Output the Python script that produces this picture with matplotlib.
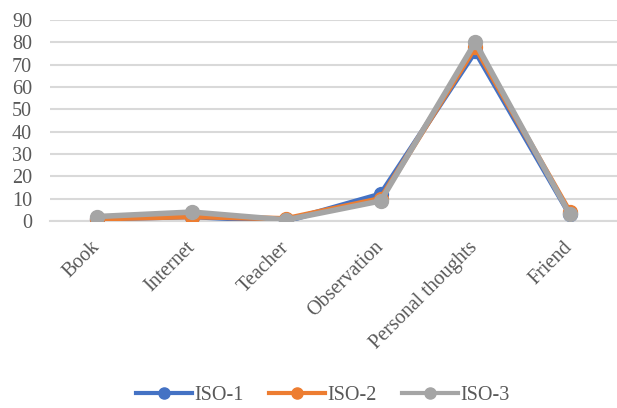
import matplotlib
matplotlib.use("Agg")
import matplotlib.pyplot as plt
from matplotlib.lines import Line2D

categories = ["Book", "Internet", "Teacher", "Observation", "Personal thoughts", "Friend"]
iso1 = [1, 2, 0, 12, 76, 3]
iso2 = [1, 2, 1, 10, 78, 4]
iso3 = [2, 4, 0.5, 9, 80, 3]
yticks = [0, 10, 20, 30, 40, 50, 60, 70, 80, 90]

plt.rcParams["font.family"] = ["Liberation Serif", "DejaVu Serif"]

W, H = 617, 408
fig = plt.figure(figsize=(W / 100, H / 100), dpi=100)
# plot area in pixels: left 50, right 617, top 20, bottom 221
ax = fig.add_axes([50 / W, 1 - 221 / H, (617 - 50) / W, (221 - 20) / H])

series = [("ISO-1", iso1, "#4472C4"), ("ISO-2", iso2, "#ED7D31"), ("ISO-3", iso3, "#A5A5A5")]
x = list(range(len(categories)))
for name, vals, col in series:
    ax.plot(x, vals, color=col, lw=4, marker="o", ms=10, label=name,
            solid_joinstyle="round", solid_capstyle="round", zorder=3)

ax.set_xlim(-0.5, len(categories) - 0.5)
ax.set_ylim(0, 90)
ax.set_yticks(yticks)
ax.set_yticklabels([str(v) for v in yticks])
ax.yaxis.grid(True, color="#D9D9D9", lw=1.5)
ax.set_axisbelow(True)
for s in ["top", "right", "left"]:
    ax.spines[s].set_visible(False)
ax.spines["bottom"].set_color("#D9D9D9")
ax.spines["bottom"].set_linewidth(1.5)
ax.tick_params(axis="both", length=0, colors="#595959", labelsize=14.5)
ax.tick_params(axis="y", pad=13)
ax.tick_params(axis="x", pad=17)
ax.set_xticks(x)
ax.set_xticklabels(categories, rotation=45, ha="right", va="center",
                   rotation_mode="anchor")

handles = [Line2D([], [], color=c, lw=3, marker="o", ms=8) for _, _, c in series]
fig.legend(handles, [n for n, _, _ in series], loc="center",
           bbox_to_anchor=(323 / W, 1 - 395 / H), ncol=3,
           frameon=False, fontsize=14.5, handlelength=2.75, columnspacing=1.25,
           handletextpad=0.15, labelcolor="#595959")

fig.savefig("out.png", dpi=100)
